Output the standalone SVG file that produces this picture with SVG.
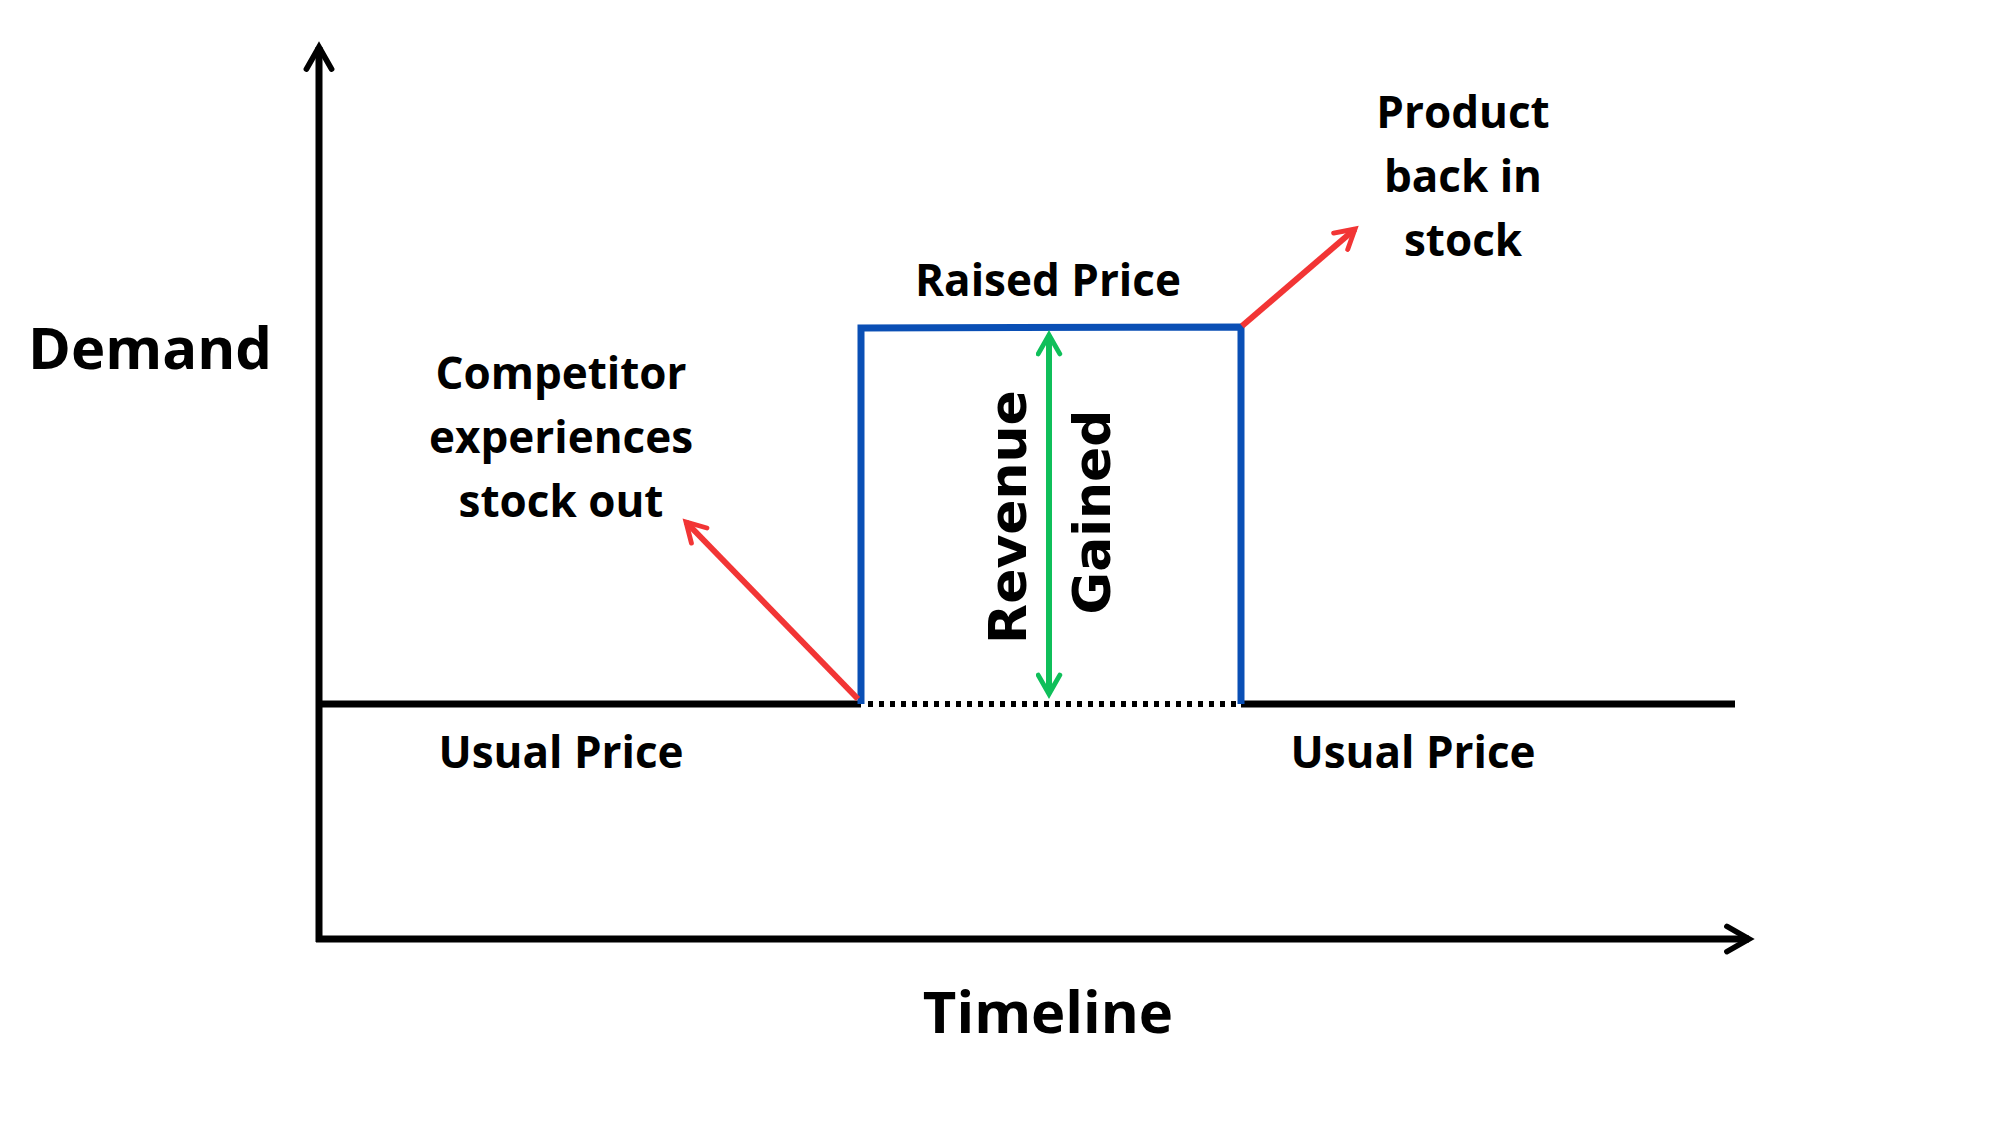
<svg xmlns="http://www.w3.org/2000/svg" width="1999" height="1125" viewBox="0 0 1999 1125">
<style>
text{font-family:"Open Sans","Liberation Sans",sans-serif;font-weight:700;fill:#000;text-anchor:middle}
.l{font-size:44px}.b{font-size:58px}.r{font-size:52px;font-family:"DejaVu Sans","Liberation Sans",sans-serif}
</style>
<defs>
<marker id="ak" viewBox="0 0 10 10" refX="8" refY="5" markerWidth="4.5" markerHeight="4.5" orient="auto" markerUnits="strokeWidth"><path d="M1,1 L8,5 L1,9" fill="none" stroke="#000" stroke-width="1.8" stroke-linecap="round"/></marker>
<marker id="ar" viewBox="0 0 10 10" refX="8" refY="5" markerWidth="4.5" markerHeight="4.5" orient="auto" markerUnits="strokeWidth"><path d="M1,1 L8,5 L1,9" fill="none" stroke="#f23535" stroke-width="1.8" stroke-linecap="round"/></marker>
<marker id="ag" viewBox="0 0 10 10" refX="8" refY="5" markerWidth="4.5" markerHeight="4.5" orient="auto-start-reverse" markerUnits="strokeWidth"><path d="M1,1 L8,5 L1,9" fill="none" stroke="#0fbf5a" stroke-width="1.8" stroke-linecap="round"/></marker>
</defs>
<rect width="1999" height="1125" fill="#fff"/>
<g transform="translate(-4,-3)">
<g id="connectors" fill="none">
<line x1="323" y1="945" x2="323" y2="50" stroke="#000" stroke-width="7" marker-end="url(#ak)"/>
<line x1="320" y1="942" x2="1753" y2="942" stroke="#000" stroke-width="7" marker-end="url(#ak)"/>
<line x1="323" y1="707" x2="865" y2="707" stroke="#000" stroke-width="7"/>
<line x1="872" y1="707" x2="1240" y2="707" stroke="#000" stroke-width="6" stroke-dasharray="5 6"/>
<line x1="1245" y1="707" x2="1739" y2="707" stroke="#000" stroke-width="7"/>
<polyline points="865,707 865,331 1245,330 1245,707" stroke="#0a4fb5" stroke-width="7"/>
<line x1="1053" y1="338" x2="1053" y2="697" stroke="#0fbf5a" stroke-width="6" marker-start="url(#ag)" marker-end="url(#ag)"/>
<line x1="862" y1="702" x2="690" y2="525" stroke="#f23535" stroke-width="6" marker-end="url(#ar)"/>
<line x1="1246" y1="329" x2="1359" y2="232" stroke="#f23535" stroke-width="6" marker-end="url(#ar)"/>
</g>
<g id="demand"><text class="b" x="154" y="372">Demand</text></g>
<g id="timeline"><text class="b" x="1052" y="1036">Timeline</text></g>
<g id="competitor"><text class="l" x="565" y="392">Competitor</text><text class="l" x="565" y="456">experiences</text><text class="l" x="565" y="520">stock out</text></g>
<g id="raised"><text class="l" x="1052" y="299">Raised Price</text></g>
<g id="product"><text class="l" x="1467" y="131">Product</text><text class="l" x="1467" y="195">back in</text><text class="l" x="1467" y="259">stock</text></g>
<g id="usual1"><text class="l" x="565" y="771">Usual Price</text></g>
<g id="usual2"><text class="l" x="1417" y="771">Usual Price</text></g>
<g id="revenue"><text class="r" transform="translate(1030,520) rotate(-90)">Revenue</text><text class="r" transform="translate(1114,515) rotate(-90)">Gained</text></g>
</g>
</svg>
